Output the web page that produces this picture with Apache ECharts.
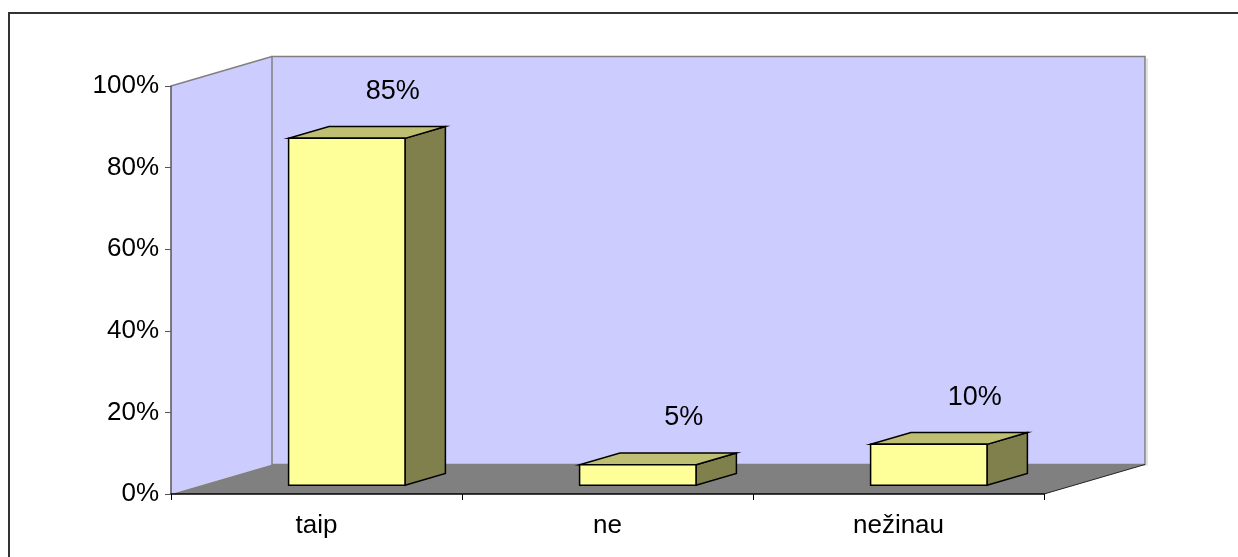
<!DOCTYPE html>
<html>
<head>
<meta charset="utf-8">
<script src="https://cdn.jsdelivr.net/npm/echarts@6/dist/echarts.min.js"></script>
<style>
html,body{margin:0;padding:0;background:#fff;}
#chart{width:1238px;height:557px;}
</style>
</head>
<body>
<div id="chart"></div>
<script>
// ---- data ----
const categories = ['taip', 'ne', 'nežinau'];
const values = [85, 5, 10];
const yTicks = { min: 0, max: 100, interval: 20 };

// ---- style constants ----
const FONT = '"Liberation Sans", Arial, sans-serif';
const DEPTH = { x: 101, y: -29.5 };   // oblique depth vector of the 3D box
const BAR_FRAC = 0.4;                  // bar width / depth as fraction of band / depth
const C = {
  wall: '#CCCCFF', wallEdge: '#808080', floor: '#808080',
  front: '#FFFF99', top: '#BFBF73', side: '#80804D'
};

const chart = echarts.init(document.getElementById('chart'), null, { renderer: 'canvas' });

function renderWalls(params, api) {
  const cs = params.coordSys;
  const x0 = cs.x, y0 = cs.y, x1 = cs.x + cs.width, y1 = cs.y + cs.height;
  const dx = DEPTH.x, dy = DEPTH.y;
  return {
    type: 'group',
    children: [
      { type: 'polygon', shape: { points: [[x0, y1], [x0, y0], [x0 + dx, y0 + dy], [x0 + dx, y1 + dy]] },
        style: { fill: C.wall, stroke: null } },
      { type: 'rect', shape: { x: x0 + dx, y: y0 + dy, width: cs.width, height: cs.height },
        style: { fill: C.wall, stroke: C.wallEdge, lineWidth: 1.5 } },
      { type: 'polyline', shape: { points: [[x1 + dx + 2, y0 + dy + 2], [x1 + dx + 2, y1 + dy + 1]] },
        style: { stroke: '#d8d8d8', lineWidth: 1.5, fill: null } },
      { type: 'polyline', shape: { points: [[x0, y0], [x0 + dx, y0 + dy]] },
        style: { stroke: C.wallEdge, lineWidth: 1.5, fill: null } },
      { type: 'polygon', shape: { points: [[x0, y1], [x1, y1], [x1 + dx, y1 + dy], [x0 + dx, y1 + dy]] },
        style: { fill: C.floor, stroke: null } },
      { type: 'polyline', shape: { points: [[x1, y1], [x1 + dx, y1 + dy]] },
        style: { stroke: '#222', lineWidth: 1, fill: null } }
    ]
  };
}

function renderBar(params, api) {
  const idx = api.value(0);
  const val = api.value(1);
  const base = api.coord([idx, 0]);
  const topPt = api.coord([idx, val]);
  const band = api.size([1, 0])[0];
  const w = band * BAR_FRAC;
  const sx = DEPTH.x * (1 - BAR_FRAC) / 2, sy = DEPTH.y * (1 - BAR_FRAC) / 2;
  const bx = DEPTH.x * BAR_FRAC, by = DEPTH.y * BAR_FRAC;
  const xl = base[0] - w / 2 + sx, xr = xl + w;
  const yb = base[1] + sy, yt = topPt[1] + sy;
  const stroke = { stroke: '#000', lineWidth: 1.5, lineJoin: 'miter' };
  return {
    type: 'group',
    children: [
      { type: 'polygon', shape: { points: [[xr, yt], [xr + bx, yt + by], [xr + bx, yb + by], [xr, yb]] },
        style: Object.assign({ fill: C.side }, stroke) },
      { type: 'polygon', shape: { points: [[xl, yt], [xr, yt], [xr + bx, yt + by], [xl + bx, yt + by]] },
        style: Object.assign({ fill: C.top }, stroke) },
      { type: 'rect', shape: { x: xl, y: yt, width: w, height: yb - yt },
        style: Object.assign({ fill: C.front }, stroke) },
      { type: 'text', x: base[0] + sx + 46, y: yt + by - 35,
        style: { text: val + '%', fill: '#000', font: '27px ' + FONT, align: 'center', verticalAlign: 'middle' } }
    ]
  };
}

const option = {
  backgroundColor: '#fff',
  animation: false,
  grid: { left: 171, top: 86, width: 873, height: 408 },
  graphic: [{
    type: 'rect', z: 100, silent: true,
    shape: { x: 9, y: 13, width: 1400, height: 800 },
    style: { fill: null, stroke: '#333', lineWidth: 2 }
  }],
  xAxis: {
    type: 'category', data: categories, z: 3,
    axisLine: { show: true, lineStyle: { color: '#000', width: 1.5 } },
    axisTick: { show: true, length: 6, lineStyle: { color: '#000' } },
    axisLabel: { color: '#000', fontSize: 26, fontFamily: FONT, margin: 19 },
    splitLine: { show: false }
  },
  yAxis: {
    type: 'value', min: yTicks.min, max: yTicks.max, interval: yTicks.interval, z: 3,
    axisLine: { show: true, lineStyle: { color: '#555', width: 1.5 } },
    axisTick: { show: true, length: 6, lineStyle: { color: '#555' } },
    axisLabel: { color: '#000', fontSize: 26, fontFamily: FONT, margin: 12, formatter: v => v + '%' },
    splitLine: { show: false }
  },
  series: [
    { type: 'custom', z: 1, renderItem: renderWalls, data: [[0, 0]], silent: true },
    { type: 'custom', z: 5, renderItem: renderBar,
      encode: { x: 0, y: 1 },
      data: categories.map((c, i) => [i, values[i]]) }
  ]
};
chart.setOption(option);
</script>
</body>
</html>
